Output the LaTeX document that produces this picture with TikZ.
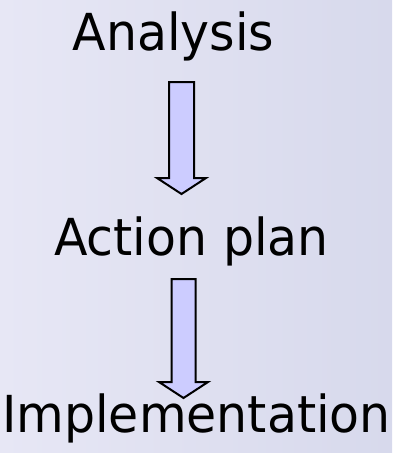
\documentclass[tikz,border=0pt]{standalone}
\usepackage{fontspec}
\setmainfont{DejaVu Sans}[FakeStretch=0.96]
\definecolor{bgA}{HTML}{E7E7F5}
\definecolor{bgB}{HTML}{D7D9EC}
\definecolor{arrowfill}{HTML}{CCCCFF}
\begin{document}
\begin{tikzpicture}[x=1pt,y=-1pt,
  label text/.style={anchor=base,inner sep=0pt,font=\fontsize{51}{51}\selectfont},
  blockarrow/.style={draw=black,line width=2pt,fill=arrowfill,line join=miter}]
\shade[left color=bgA,right color=bgB] (0,0) rectangle (392,453);
\useasboundingbox (0,0) rectangle (392,453);
\node[label text] (analysis) at (173.5,50) {Analysis};
\node[label text] (action) at (191.5,255) {Action plan};
\node[label text] (impl) at (196.5,432) {Implementation};
% arrow 1
\draw[blockarrow] (169,82) -- (194,82) -- (194,178) -- (206,178) -- (181.5,194)
  -- (157,178) -- (169,178) -- cycle;
% arrow 2
\draw[blockarrow] (171.5,279) -- (195.5,279) -- (195.5,382) -- (208,382) -- (183.5,398)
  -- (159,382) -- (171.5,382) -- cycle;
\end{tikzpicture}
\end{document}
